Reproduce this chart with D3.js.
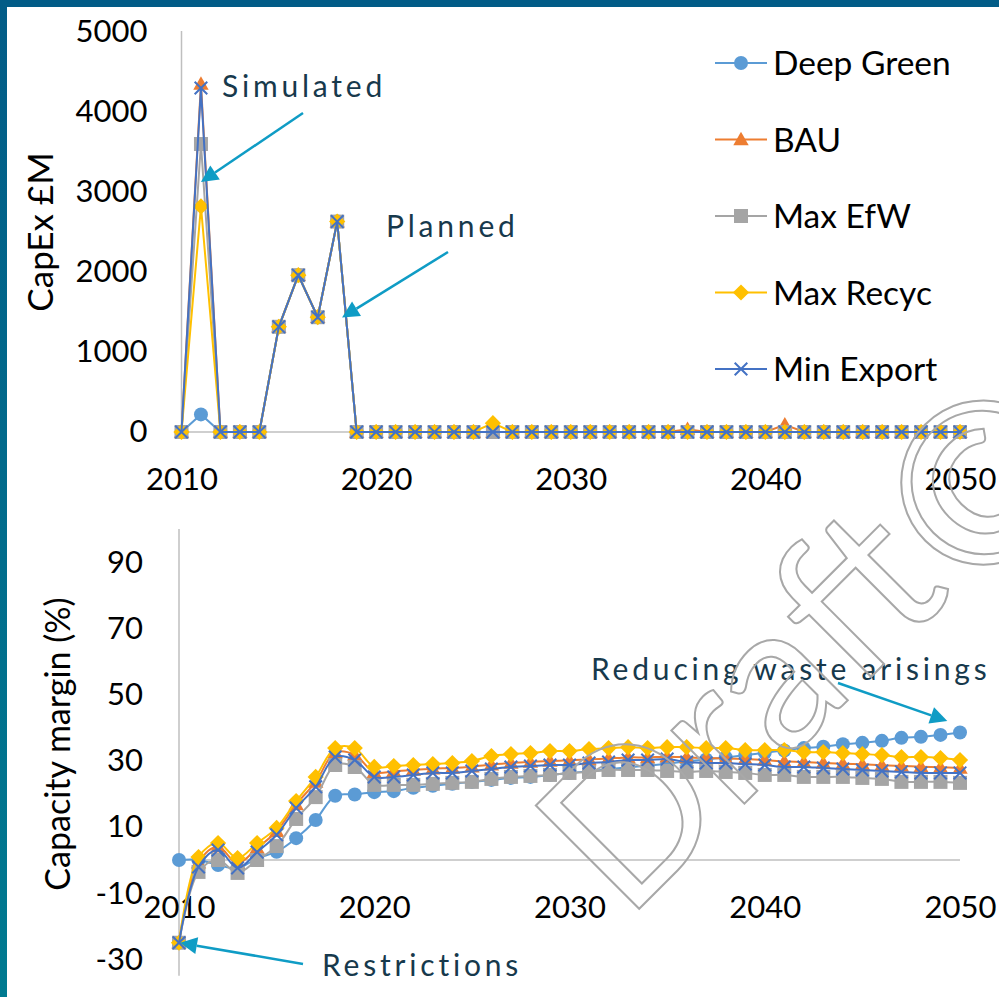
<!DOCTYPE html>
<html>
<head>
<meta charset="utf-8">
<script src="https://cdn.jsdelivr.net/npm/d3@7"></script>
<style>
  body { margin: 0; background: #fff; }
  svg { display: block; }
  text { font-family: Lato, "Open Sans", sans-serif; }
</style>
</head>
<body>
<svg id="chart" width="999" height="997"></svg>
<script>
// ---- data ----------------------------------------------------------
const years = d3.range(2010, 2051);
const seriesNames   = ["Deep Green", "BAU", "Max EfW", "Max Recyc", "Min Export"];
const seriesColors  = ["#5b9bd5", "#ed7d31", "#a5a5a5", "#ffc000", "#4472c4"];
const seriesMarkers = ["circle", "triangle", "square", "diamond", "cross"];

// CapEx (£M) per year, 2010-2050
const capexDeepGreen = [0,220,0,0,0,1315,1960,1435,2630,0,
  0,0,0,0,0,0,0,0,0,0, 0,0,0,0,0,0,0,0,0,0, 0,0,0,0,0,0,0,0,0,0, 0];
const capexBAU = [0,4350,0,0,0,1315,1960,1435,2630,0,
  0,0,0,0,0,0,0,0,0,0, 0,0,0,0,0,0,35,0,0,0, 0,90,0,0,0,0,0,0,0,0, 0];
const capexMaxEfW = [0,3600,0,0,0,1315,1960,1435,2630,0,
  0,0,0,0,0,0,0,0,0,0, 0,0,0,0,0,0,0,0,0,0, 0,0,0,0,0,0,0,0,0,0, 0];
const capexMaxRecyc = [0,2820,0,0,0,1315,1960,1435,2630,0,
  0,0,0,0,0,0,110,0,0,0, 0,0,0,0,0,0,0,0,0,0, 0,0,0,0,0,0,0,0,0,0, 0];
const capexMinExport = [0,4300,0,0,0,1315,1960,1435,2630,0,
  0,0,0,0,0,0,0,0,0,0, 0,0,0,0,0,0,0,0,0,0, 0,0,0,0,0,0,0,0,0,0, 0];

// Capacity margin (%) per year, 2010-2050
const marginDeepGreen = [0,0,-1.5,-2.5,0.5,2.5,6.6,12.1,19.4,19.8,
  20.5,20.8,21.8,22.4,23.0,23.6,24.2,24.8,25.1,25.7,
  26.3,26.8,27.4,28.0,28.5,29.1,29.8,30.4,31.0,31.7,
  32.4,33.1,33.8,34.2,35.0,35.4,36.0,36.9,37.2,37.8, 38.5];
const marginBAU = [-25,-0.8,4.0,-1.0,3.6,8.7,16.8,23.6,32.5,31.8,
  26.5,26.8,27.2,27.6,27.8,28.2,28.8,29.3,29.6,29.9,
  30.1,30.4,30.7,31.0,31.0,31.2,31.0,30.8,30.7,30.5,
  30.2,29.8,29.6,29.3,29.1,28.9,28.6,28.4,28.2,28.0, 27.8];
const marginMaxEfW = [-25,-3.6,0,-3.9,0,4.2,12.4,19.0,28.7,28.1,
  22.7,22.7,22.7,23.0,23.3,23.6,24.5,25.1,25.4,25.7,
  26.3,26.6,27.2,27.2,27.2,26.9,26.6,26.9,26.6,26.3,
  25.7,25.7,25.1,25.1,25.1,24.8,24.5,23.6,23.6,23.6, 23.3];
const marginMaxRecyc = [-25,0.9,5.1,0.6,5.1,9.7,17.8,25.1,33.8,33.8,
  28.1,28.4,28.7,29.0,29.3,29.9,31.4,32.0,32.3,32.9,
  32.9,33.5,33.8,34.1,33.8,34.1,34.1,33.8,33.8,33.2,
  33.2,33.2,32.6,32.6,32.3,32.0,31.7,31.1,31.1,30.8, 30.2];
const marginMinExport = [-25,-2.1,3.0,-2.4,2.4,7.6,15.7,22.1,31.1,30.2,
  25.1,25.1,25.7,26.3,26.3,26.9,27.5,28.1,28.4,28.7,
  28.7,29.3,29.6,30.2,30.2,30.5,29.6,29.3,29.3,29.0,
  28.7,28.1,28.1,27.8,27.5,27.2,26.9,26.6,26.3,26.3, 26.3];

const capexTicks  = [0, 1000, 2000, 3000, 4000, 5000];
const marginTicks = [-30, -10, 10, 30, 50, 70, 90];
const yearTicks   = [2010, 2020, 2030, 2040, 2050];

const capexSeries  = [capexDeepGreen, capexBAU, capexMaxEfW, capexMaxRecyc, capexMinExport];
const marginSeries = [marginDeepGreen, marginBAU, marginMaxEfW, marginMaxRecyc, marginMinExport];

// ---- setup ---------------------------------------------------------
const svg = d3.select("#chart");
const AXIS_GREY = "#bfbfbf";
const NOTE_COLOR = "#17394c";
const ARROW_COLOR = "#0f9cc5";
const plainNumber = d => String(d);   // plain digits, ASCII hyphen for negatives

// page frame (dark teal bars on top and left)
const defs = svg.append("defs");
const grad = defs.append("linearGradient").attr("id", "frameGrad")
  .attr("x1", 0).attr("y1", 0).attr("x2", 0).attr("y2", 1);
grad.append("stop").attr("offset", "0%").attr("stop-color", "#025c87");
grad.append("stop").attr("offset", "100%").attr("stop-color", "#007a90");
svg.append("rect").attr("x", 0).attr("y", 0).attr("width", 999).attr("height", 7).attr("fill", "#025c87");
svg.append("rect").attr("x", 0).attr("y", 0).attr("width", 7).attr("height", 997).attr("fill", "url(#frameGrad)");

// marker drawing
function drawMarker(g, type, color, x, y, s) {
  if (type === "circle") {
    g.append("circle").attr("cx", x).attr("cy", y).attr("r", s * 0.5).attr("fill", color);
  } else if (type === "square") {
    g.append("rect").attr("x", x - s / 2).attr("y", y - s / 2).attr("width", s).attr("height", s).attr("fill", color);
  } else if (type === "diamond") {
    const h = s * 0.58;
    g.append("path").attr("d", `M${x},${y - h}L${x + h},${y}L${x},${y + h}L${x - h},${y}Z`).attr("fill", color);
  } else if (type === "triangle") {
    const h = s * 0.55;
    g.append("path").attr("d", `M${x},${y - h}L${x + h},${y + h * 0.75}L${x - h},${y + h * 0.75}Z`).attr("fill", color);
  } else if (type === "cross") {
    const h = s * 0.45;
    g.append("path").attr("d", `M${x - h},${y - h}L${x + h},${y + h}M${x - h},${y + h}L${x + h},${y - h}`)
      .attr("stroke", color).attr("stroke-width", 2).attr("fill", "none");
  }
}

function arrow(g, x1, y1, x2, y2) {
  const ang = Math.atan2(y2 - y1, x2 - x1);
  const L = 17, W = 8.5;
  const bx = x2 - L * Math.cos(ang), by = y2 - L * Math.sin(ang);
  g.append("line").attr("x1", x1).attr("y1", y1).attr("x2", bx).attr("y2", by)
    .attr("stroke", ARROW_COLOR).attr("stroke-width", 2.5);
  const px = -Math.sin(ang) * W, py = Math.cos(ang) * W;
  g.append("path").attr("d", `M${x2},${y2}L${bx + px},${by + py}L${bx - px},${by - py}Z`).attr("fill", ARROW_COLOR);
}

function note(g, x, y, str) {
  g.append("text").attr("x", x).attr("y", y).text(str)
    .attr("fill", NOTE_COLOR).attr("font-family", "'Open Sans', sans-serif")
    .attr("font-size", 30).attr("letter-spacing", 3.8);
}

// ---- upper chart: CapEx --------------------------------------------
const xTop = d3.scaleLinear().domain([2010, 2050]).range([181.5, 960]);
const yTop = d3.scaleLinear().domain([0, 5000]).range([432, 32]);
const capexG = svg.append("g");

capexG.append("line").attr("x1", xTop(2010)).attr("x2", xTop(2010))
  .attr("y1", yTop(5012)).attr("y2", yTop(0)).attr("stroke", AXIS_GREY).attr("stroke-width", 1.5);
capexG.append("line").attr("x1", xTop(2010)).attr("x2", xTop(2050))
  .attr("y1", yTop(0)).attr("y2", yTop(0)).attr("stroke", AXIS_GREY).attr("stroke-width", 1.5);

const yAxisTop = capexG.append("g").attr("transform", `translate(${xTop(2010)},0)`)
  .call(d3.axisLeft(yTop).tickValues(capexTicks).tickFormat(plainNumber).tickSize(0).tickPadding(34));
const xAxisTop = capexG.append("g").attr("transform", `translate(0,${yTop(0)})`)
  .call(d3.axisBottom(xTop).tickValues(yearTicks).tickFormat(plainNumber).tickSize(0).tickPadding(36));
[yAxisTop, xAxisTop].forEach(a => {
  a.select(".domain").remove();
  a.selectAll("text").attr("font-size", 31).attr("fill", "#000").attr("font-family", "Lato, sans-serif");
});

capexG.append("text").attr("transform", "translate(53,232) rotate(-90)")
  .attr("text-anchor", "middle").attr("font-size", 35).attr("fill", "#000").text("CapEx £M");

const lineTop = d3.line().x((d, i) => xTop(years[i])).y(d => yTop(d));
capexSeries.forEach((vals, k) => {
  const g = capexG.append("g");
  g.append("path").attr("d", lineTop(vals)).attr("fill", "none")
    .attr("stroke", seriesColors[k]).attr("stroke-width", 2);
  vals.forEach((v, i) => drawMarker(g, seriesMarkers[k], seriesColors[k], xTop(years[i]), yTop(v), 14));
});

// legend
const legend = svg.append("g");
seriesNames.forEach((name, k) => {
  const cy = 63 + k * 76.5;
  legend.append("line").attr("x1", 715).attr("x2", 767).attr("y1", cy).attr("y2", cy)
    .attr("stroke", seriesColors[k]).attr("stroke-width", 2);
  drawMarker(legend, seriesMarkers[k], seriesColors[k], 741, cy, 14);
  legend.append("text").attr("x", 773).attr("y", cy + 12).attr("font-size", 33.5)
    .attr("fill", "#000").text(name);
});

// ---- lower chart: capacity margin ----------------------------------
const xBot = d3.scaleLinear().domain([2010, 2050]).range([179, 960]);
const yBot = d3.scaleLinear().domain([0, 90]).range([860, 860 - 90 * 3.31]);
const marginG = svg.append("g");

marginG.append("line").attr("x1", xBot(2010)).attr("x2", xBot(2010))
  .attr("y1", yBot(100)).attr("y2", yBot(-35)).attr("stroke", AXIS_GREY).attr("stroke-width", 1.5);
marginG.append("line").attr("x1", xBot(2010)).attr("x2", xBot(2050))
  .attr("y1", yBot(0)).attr("y2", yBot(0)).attr("stroke", AXIS_GREY).attr("stroke-width", 1.5);

const yAxisBot = marginG.append("g").attr("transform", `translate(${xBot(2010)},0)`)
  .call(d3.axisLeft(yBot).tickValues(marginTicks).tickFormat(plainNumber).tickSize(0).tickPadding(36));
const xAxisBot = marginG.append("g").attr("transform", `translate(0,${yBot(0)})`)
  .call(d3.axisBottom(xBot).tickValues(yearTicks).tickFormat(plainNumber).tickSize(0).tickPadding(36));
[yAxisBot, xAxisBot].forEach(a => {
  a.select(".domain").remove();
  a.selectAll("text").attr("font-size", 31).attr("fill", "#000").attr("font-family", "Lato, sans-serif");
});

marginG.append("text").attr("transform", "translate(70,744) rotate(-90)")
  .attr("text-anchor", "middle").attr("font-size", 34).attr("fill", "#000").text("Capacity margin (%)");

const lineBot = d3.line().x((d, i) => xBot(years[i])).y(d => yBot(d)).curve(d3.curveCatmullRom.alpha(0.5));
marginSeries.forEach((vals, k) => {
  const g = marginG.append("g");
  g.append("path").attr("d", lineBot(vals)).attr("fill", "none")
    .attr("stroke", seriesColors[k]).attr("stroke-width", 2);
  vals.forEach((v, i) => drawMarker(g, seriesMarkers[k], seriesColors[k], xBot(years[i]), yBot(v), 14));
});

// ---- annotations ---------------------------------------------------
const notes = svg.append("g");
note(notes, 222, 97, "Simulated");
arrow(notes, 303, 113, xTop(2011), yTop(3125));
note(notes, 386, 237, "Planned");
arrow(notes, 448, 252, xTop(2018.25), yTop(1430));
note(notes, 591, 680, "Reducing waste arisings");
arrow(notes, 838, 683, xBot(2049.35), yBot(42));
note(notes, 322, 976, "Restrictions");
arrow(notes, 303, 964, xBot(2010) + 1, yBot(-25));

// watermark
const mark = svg.append("g").attr("fill", "none").attr("stroke", "#a8a8a8").attr("stroke-width", 2)
  .attr("font-family", "Lato, sans-serif");
mark.append("text").attr("transform", "translate(626,922) rotate(-45)")
  .attr("font-size", 204).text("Draft");
mark.append("text").attr("transform", "translate(979,478) rotate(-45)")
  .attr("font-size", 225).attr("text-anchor", "middle").attr("dominant-baseline", "central").text("©");
</script>
</body>
</html>
